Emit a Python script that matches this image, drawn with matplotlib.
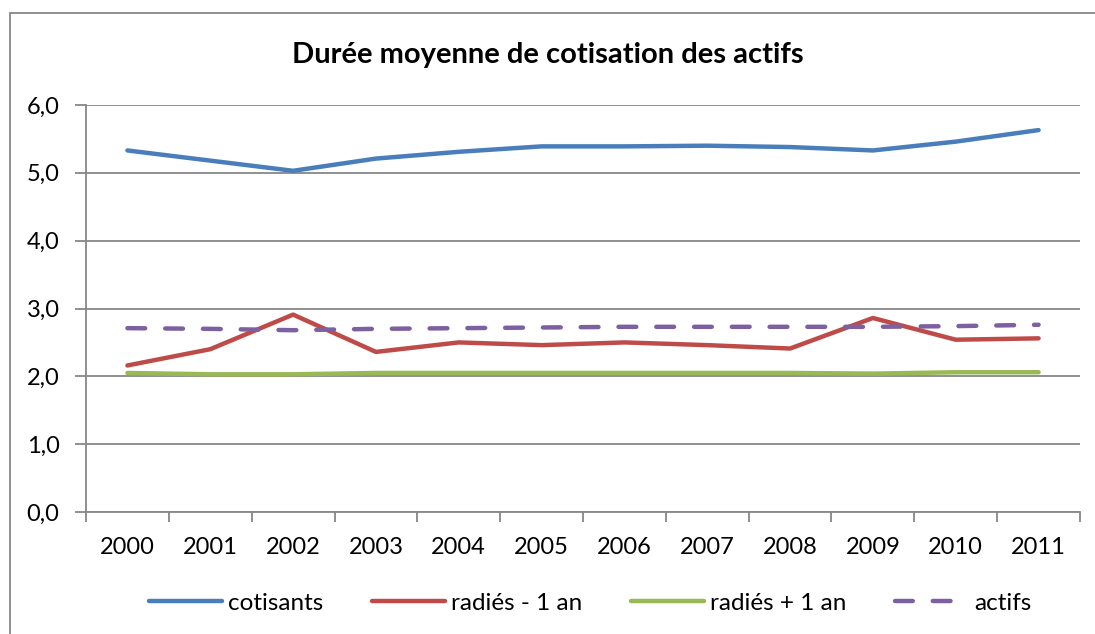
import numpy as np
import matplotlib.pyplot as plt
from matplotlib.patches import Rectangle

years = [str(y) for y in range(2000, 2012)]
cotisants = [5.33, 5.18, 5.03, 5.21, 5.31, 5.39, 5.39, 5.40, 5.38, 5.33, 5.46, 5.63]
radies_moins = [2.16, 2.40, 2.91, 2.36, 2.50, 2.46, 2.50, 2.46, 2.41, 2.86, 2.54, 2.56]
radies_plus = [2.05, 2.03, 2.03, 2.05, 2.05, 2.05, 2.05, 2.05, 2.05, 2.04, 2.06, 2.06]
actifs = [2.71, 2.70, 2.68, 2.70, 2.71, 2.72, 2.73, 2.73, 2.73, 2.73, 2.74, 2.76]

plt.rcParams['font.family'] = ['Lato', 'DejaVu Sans']
grid_col = '#878787'

fig = plt.figure(figsize=(10.95, 6.34), dpi=100)
ax = fig.add_axes([86 / 1095, 1 - 512 / 634, (1080 - 86) / 1095, (512 - 105) / 634])

x = np.arange(len(years))
ax.plot(x, cotisants, color='#4A7EBB', lw=3.2, label='cotisants', solid_capstyle='round')
ax.plot(x, radies_moins, color='#BE4B48', lw=3.2, label='radiés - 1 an', solid_capstyle='round')
ax.plot(x, radies_plus, color='#98B954', lw=3.2, label='radiés + 1 an', solid_capstyle='round')
ax.plot(x, actifs, color='#7D60A0', lw=3.2, ls=(0, (4, 4.5)), dash_capstyle='round',
        label='actifs')

ax.set_xlim(-0.5, len(years) - 0.5)
ax.set_ylim(0, 6)
ax.set_yticks(np.arange(0, 7, 1))
ax.set_yticklabels([f"{v:.1f}".replace('.', ',') for v in range(0, 7)], fontsize=17)
ax.set_xticks(x)
ax.set_xticklabels(years, fontsize=17)
ax.set_xticks(np.arange(-0.5, len(years)), minor=True)
ax.tick_params(axis='x', which='major', length=0, pad=18)
ax.tick_params(axis='x', which='minor', length=7, color=grid_col, width=1.3)
ax.tick_params(axis='y', length=8, color=grid_col, width=1.3, pad=11)
ax.yaxis.grid(True, color=grid_col, lw=1.3)
ax.set_axisbelow(True)
for s in ['top', 'right']:
    ax.spines[s].set_visible(False)
for s in ['left', 'bottom']:
    ax.spines[s].set_color(grid_col)
    ax.spines[s].set_linewidth(1.3)

fig.text(0.5, 1 - 55 / 634, 'Durée moyenne de cotisation des actifs', ha='center', va='center',
         fontsize=21, fontweight='bold')

fig.legend(loc='center', bbox_to_anchor=(0.539, 1 - 603 / 634), ncol=4, frameon=False,
           fontsize=17.5, handlelength=3.0, columnspacing=2.0, handletextpad=0.25)

fig.patches.append(Rectangle((10 / 1095, -0.1), 1.2, 1 - 13 / 634 + 0.1, transform=fig.transFigure,
                             fill=False, edgecolor=grid_col, lw=1.3))

fig.savefig('out.png', dpi=100)
